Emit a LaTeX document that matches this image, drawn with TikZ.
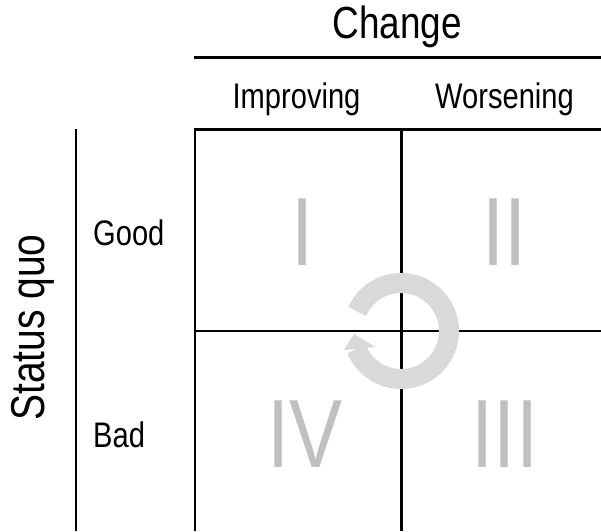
\documentclass[tikz,border=0pt]{standalone}
\usepackage{fontspec}
\setmainfont{Liberation Sans}[FakeStretch=0.82]
\usetikzlibrary{calc}
\definecolor{numgray}{RGB}{192,192,192}
\definecolor{ringgray}{RGB}{217,217,217}
\tikzset{
  rule/.style={line width=2.2pt, black},
  label/.style={inner sep=0pt, font=\fontsize{35.5}{40}\selectfont},
  title/.style={inner sep=0pt, font=\fontsize{45}{50}\selectfont},
  sqtitle/.style={inner sep=0pt, font=\fontsize{47.5}{52}\selectfont},
  numeral/.style={inner sep=0pt, text=numgray, font=\fontsize{97}{100}\selectfont},
  ring/.style={line width=20pt, ringgray, line cap=butt},
}
\begin{document}
\begin{tikzpicture}[x=1pt,y=1pt]
\useasboundingbox (0,0) rectangle (601,531);
% coordinates
\coordinate (chL) at (194,473.5);
\coordinate (chR) at (601,473.5);
\coordinate (topL) at (195,401.5);
\coordinate (topR) at (601,401.5);
\coordinate (midL) at (195,200);
\coordinate (midR) at (601,200);
\coordinate (botL) at (195,0);
\coordinate (midT) at (401.5,401.5);
\coordinate (midB) at (401.5,0);
\coordinate (sqT) at (76,402);
\coordinate (sqB) at (76,0);
\coordinate (C) at (401,200);
% lines
\draw[rule] (chL) -- (chR);
\draw[rule] (topL) -- (topR);
\draw[rule] (midL) -- (midR);
\draw[rule] ([yshift=1.1pt]topL) -- (botL);
\draw[rule] (midT) -- (midB);
\draw[rule] (sqT) -- (sqB);
% texts
\node[title, anchor=base] (change) at (397,492) {Change};
\node[label, anchor=base] (impr) at (296.5,422) {Improving};
\node[label, anchor=base] (wors) at (504.5,422) {Worsening};
\node[sqtitle, anchor=base, rotate=90] (sq) at (44,203.5) {Status quo};
\node[label, anchor=base west] (good) at (93,286) {Good};
\node[label, anchor=base west] (bad) at (93,84) {Bad};
% ring arrow
\draw[ring] ($(C)+(156:48)$) arc[start angle=156, end angle=-158, radius=48];
\fill[ringgray] ($(C)+(-47,-3)$) -- ($(C)+(-57,-19)$) -- ($(C)+(-25,-16)$) -- cycle;
% numerals
\node[numeral] (n1) at (303,298.5) {I};
\node[numeral] (n2) at (504.5,298.5) {II};
\node[numeral] (n3) at (505,97) {III};
\node[numeral] (n4) at (305,97) {IV};
\end{tikzpicture}
\end{document}
